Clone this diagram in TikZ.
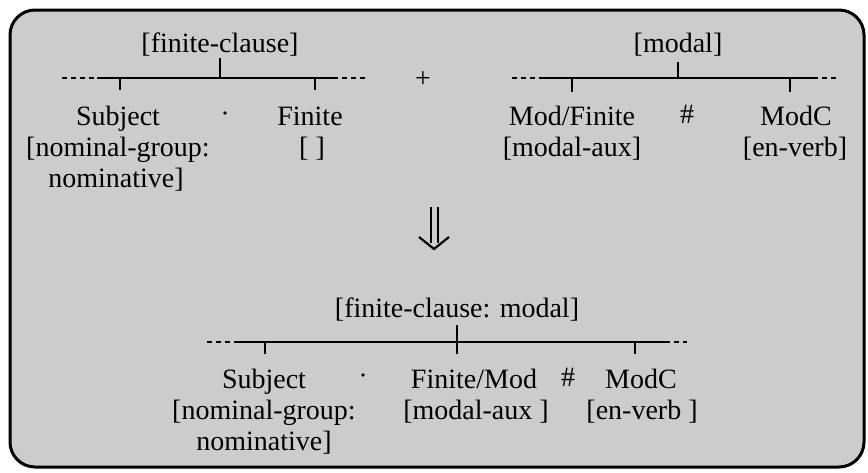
\documentclass[tikz,border=0pt]{standalone}
\usepackage{fontspec}
\setmainfont{Liberation Serif}
\begin{document}
\begin{tikzpicture}[x=1pt,y=-1pt,
  lbl/.style={anchor=base, inner sep=0pt, font=\fontsize{28}{32}\selectfont},
  bar/.style={line width=2.5pt},
  tick/.style={line width=2.5pt},
  dashbar/.style={line width=2.5pt, dash pattern=on 5pt off 4pt},
  boxframe/.style={line width=3pt, rounded corners=25pt, fill=black!20},
  sep/.style={circle, fill=black, inner sep=1.3pt}]
\useasboundingbox (0,0) rectangle (868,472);
\draw[boxframe] (10,10) rectangle (864,467);

% ---- finite clause
\node[lbl] (fc) at (220,52) {[finite-clause]};
\coordinate (fcTop) at (220,58);
\coordinate (fcMid) at (220,78);
\coordinate (fcL0) at (62,78);
\coordinate (fcL1) at (97,78);
\coordinate (fcR1) at (333,78);
\coordinate (fcR0) at (366,78);
\coordinate (fcA) at (120,78);
\coordinate (fcAe) at (120,90);
\coordinate (fcB) at (315,78);
\coordinate (fcBe) at (315,90);
\draw[dashbar] (fcL0) -- (fcL1);
\draw[bar] (fcL1) -- (fcR1);
\draw[dashbar] (fcR1) -- (fcR0);
\draw[tick] (fcTop) -- (fcMid);
\draw[tick] (fcA) -- (fcAe);
\draw[tick] (fcB) -- (fcBe);
\node[lbl] (subj1) at (118,125) {Subject};
\node[lbl] (subj1b) at (118,156) {[nominal-group:};
\node[lbl] (subj1c) at (116,187) {nominative]};
\node[sep] (dot1) at (225,113) {};
\node[lbl] (fin1) at (310,125) {Finite};
\node[lbl] (fin1b) at (312,156) {[ ]};

\node[inner sep=0pt, font=\fontsize{28}{32}\selectfont] (plus) at (423,80) {+};

% ---- modal
\node[lbl] (md) at (678,52) {[modal]};
\coordinate (mdTop) at (678,62);
\coordinate (mdMid) at (678,78);
\coordinate (mdL0) at (512,78);
\coordinate (mdL1) at (544,78);
\coordinate (mdR1) at (813,78);
\coordinate (mdR0) at (838,78);
\coordinate (mdA) at (572,78);
\coordinate (mdAe) at (572,92);
\coordinate (mdB) at (790,78);
\coordinate (mdBe) at (790,92);
\draw[dashbar] (mdL0) -- (mdL1);
\draw[bar] (mdL1) -- (mdR1);
\draw[dashbar] (mdR1) -- (mdR0);
\draw[tick] (mdTop) -- (mdMid);
\draw[tick] (mdA) -- (mdAe);
\draw[tick] (mdB) -- (mdBe);
\node[lbl] (modfin) at (572,125) {Mod/Finite};
\node[lbl] (modfinb) at (572,156) {[modal-aux]};
\node[lbl] (hash1) at (687,123) {\#};
\node[lbl] (modc1) at (796,125) {ModC};
\node[lbl] (modc1b) at (795,156) {[en-verb]};

% ---- derivation arrow
\coordinate (arT1) at (431,207);
\coordinate (arB1) at (431,243);
\coordinate (arT2) at (438,207);
\coordinate (arB2) at (438,243);
\coordinate (arHL) at (419,237);
\coordinate (arTip) at (434,249);
\coordinate (arHR) at (449,237);
\draw[line width=2.2pt] (arT1) -- (arB1);
\draw[line width=2.2pt] (arT2) -- (arB2);
\draw[line width=2.2pt, line join=miter] (arHL) -- (arTip) -- (arHR);

% ---- combined clause
\node[lbl] (fcm) at (457,317) {[finite-clause: modal]};
\coordinate (cTop) at (457,325);
\coordinate (cBot) at (457,354);
\coordinate (cL0) at (207,342);
\coordinate (cL1) at (238,342);
\coordinate (cR1) at (665,342);
\coordinate (cR0) at (687,342);
\coordinate (cA) at (265,342);
\coordinate (cAe) at (265,354);
\coordinate (cB) at (635,342);
\coordinate (cBe) at (635,354);
\draw[dashbar] (cL0) -- (cL1);
\draw[bar] (cL1) -- (cR1);
\draw[dashbar] (cR1) -- (cR0);
\draw[tick] (cTop) -- (cBot);
\draw[tick] (cA) -- (cAe);
\draw[tick] (cB) -- (cBe);
\node[lbl] (subj2) at (264,388) {Subject};
\node[lbl] (subj2b) at (264,419) {[nominal-group:};
\node[lbl] (subj2c) at (264,450) {nominative]};
\node[sep] (dot2) at (363,375) {};
\node[lbl] (finmod) at (474,388) {Finite/Mod};
\node[lbl] (finmodb) at (476,419) {[modal-aux ]};
\node[lbl] (hash2) at (568,386) {\#};
\node[lbl] (modc2) at (641,388) {ModC};
\node[lbl] (modc2b) at (642,419) {[en-verb ]};
\end{tikzpicture}
\end{document}
